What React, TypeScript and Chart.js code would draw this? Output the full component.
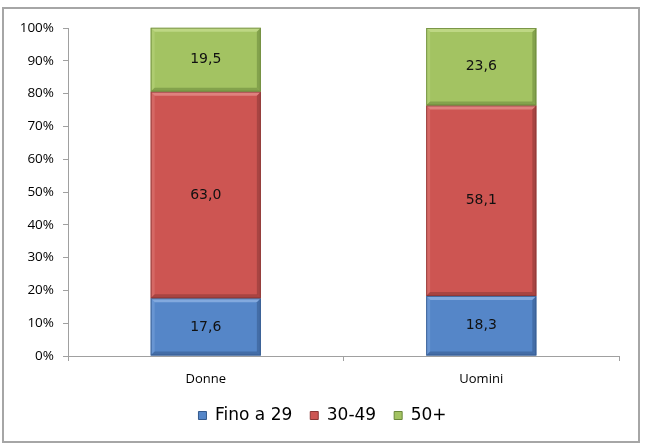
import React, { useEffect, useRef } from "react";
import { Chart, registerables } from "chart.js";

Chart.register(...registerables);

const categories = ["Donne", "Uomini"];
const seriesNames = ["Fino a 29", "30-49", "50+"];
const fino29 = [17.6, 18.3];
const da30a49 = [63.0, 58.1];
const over50 = [19.5, 23.6];
const yTicks = [0, 10, 20, 30, 40, 50, 60, 70, 80, 90, 100];

const faceColors = ["#5586C8", "#CD5552", "#A3C362"];
const lightColors = ["#8DB1E4", "#E48C89", "#C4DC8D"];
const darkColors = ["#34598C", "#8A3634", "#6A873A"];

function fmt(v: number) {
  return v.toFixed(1).replace(".", ",");
}

const bevelPlugin = {
  id: "bevel",
  afterDatasetsDraw(chart: any) {
    const ctx = chart.ctx;
    chart.data.datasets.forEach((ds: any, di: number) => {
      const meta = chart.getDatasetMeta(di);
      meta.data.forEach((bar: any, i: number) => {
        const p = bar.getProps(["x", "y", "base", "width"], true);
        const l = p.x - p.width / 2;
        const r = p.x + p.width / 2;
        const t = Math.min(p.y, p.base);
        const b = Math.max(p.y, p.base);
        const bw = 4;
        ctx.save();
        ctx.fillStyle = lightColors[di];
        ctx.globalAlpha = 0.8;
        ctx.beginPath();
        ctx.moveTo(l, t);
        ctx.lineTo(r, t);
        ctx.lineTo(r - bw, t + bw);
        ctx.lineTo(l + bw, t + bw);
        ctx.closePath();
        ctx.fill();
        ctx.globalAlpha = 0.35;
        ctx.beginPath();
        ctx.moveTo(l, t);
        ctx.lineTo(l + bw, t + bw);
        ctx.lineTo(l + bw, b - bw);
        ctx.lineTo(l, b);
        ctx.closePath();
        ctx.fill();
        ctx.fillStyle = darkColors[di];
        ctx.globalAlpha = 0.55;
        ctx.beginPath();
        ctx.moveTo(r, t);
        ctx.lineTo(r, b);
        ctx.lineTo(r - bw, b - bw);
        ctx.lineTo(r - bw, t + bw);
        ctx.closePath();
        ctx.fill();
        ctx.beginPath();
        ctx.moveTo(l, b);
        ctx.lineTo(r, b);
        ctx.lineTo(r - bw, b - bw);
        ctx.lineTo(l + bw, b - bw);
        ctx.closePath();
        ctx.fill();
        ctx.globalAlpha = 0.8;
        ctx.strokeStyle = darkColors[di];
        ctx.lineWidth = 1;
        ctx.strokeRect(l + 0.5, t + 0.5, r - l - 1, b - t - 1);
        ctx.globalAlpha = 1;
        const v = ds.data[i];
        ctx.fillStyle = "#111111";
        ctx.font = "14px 'DejaVu Sans', sans-serif";
        ctx.textAlign = "center";
        ctx.textBaseline = "middle";
        ctx.fillText(fmt(v), p.x, (t + b) / 2);
        ctx.restore();
      });
    });
  },
};

const framePlugin = {
  id: "frame",
  beforeDraw(chart: any) {
    const ctx = chart.ctx;
    ctx.save();
    ctx.fillStyle = "#ffffff";
    ctx.fillRect(0, 0, chart.width, chart.height);
    ctx.strokeStyle = "#A6A6A6";
    ctx.lineWidth = 2;
    ctx.strokeRect(3, 8, 636, 434);
    ctx.restore();
  },
};

export default function App() {
  const ref = useRef<HTMLCanvasElement>(null);
  useEffect(() => {
    if (!ref.current) return;
    const values = [fino29, da30a49, over50];
    const chart = new Chart(ref.current, {
      type: "bar",
      data: {
        labels: categories,
        datasets: seriesNames.map((name, k) => ({
          label: name,
          data: values[k],
          backgroundColor: faceColors[k],
          borderWidth: 0,
          barPercentage: 0.4,
          categoryPercentage: 1,
        })),
      },
      options: {
        animation: false,
        responsive: false,
        maintainAspectRatio: false,
        layout: { padding: { left: 0, right: 0, top: 28, bottom: 10 } },
        plugins: {
          tooltip: { enabled: false },
          legend: {
            position: "bottom",
            labels: {
              color: "#000",
              font: { family: "'DejaVu Sans', sans-serif", size: 17 },
              boxWidth: 8,
              boxHeight: 8,
              padding: 18,
              generateLabels: () =>
                seriesNames.map((n, k) => ({
                  text: n,
                  fillStyle: faceColors[k],
                  strokeStyle: darkColors[k],
                  lineWidth: 1,
                  datasetIndex: k,
                  hidden: false,
                })),
            },
          },
        },
        scales: {
          x: {
            stacked: true,
            grid: {
              offset: true,
              drawOnChartArea: false,
              drawTicks: true,
              tickLength: 5,
              color: "#A0A0A0",
            },
            border: { display: true, color: "#A0A0A0" },
            ticks: {
              color: "#000",
              padding: 10,
              font: { family: "'Open Sans', sans-serif", size: 13 },
            },
            afterFit: (s: any) => {
              s.height = 33;
            },
          },
          y: {
            stacked: true,
            min: 0,
            max: 100,
            afterBuildTicks: (s: any) => {
              s.ticks = yTicks.map((v) => ({ value: v }));
            },
            grid: {
              drawOnChartArea: false,
              drawTicks: true,
              tickLength: 5,
              color: "#A0A0A0",
            },
            border: { display: true, color: "#A0A0A0" },
            ticks: {
              color: "#000",
              padding: 9,
              font: { family: "'Open Sans', sans-serif", size: 13.5 },
              callback: (v: any) => v + "%",
            },
            afterFit: (s: any) => {
              s.width = 68;
            },
          },
          spacer: {
            type: "linear",
            position: "right",
            display: true,
            min: 0,
            max: 1,
            grid: { display: false },
            border: { display: false },
            ticks: { display: false },
            afterFit: (s: any) => {
              s.width = 26;
            },
          },
        },
      },
      plugins: [framePlugin, bevelPlugin],
    });
    return () => chart.destroy();
  }, []);
  return (
    <div style={{ position: "absolute", left: 0, top: 0, width: 645, height: 444 }}>
      <canvas ref={ref} width={645} height={444} />
    </div>
  );
}
